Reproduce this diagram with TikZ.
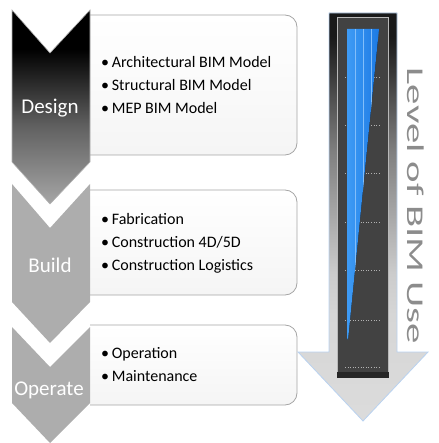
\documentclass[tikz,border=0pt]{standalone}
\usepackage{fontspec}
\setmainfont{Carlito}

\definecolor{chevgray}{RGB}{173,173,173}
\definecolor{bardark}{RGB}{66,66,66}
\definecolor{bluelight}{RGB}{62,155,245}
\definecolor{bluedark}{RGB}{28,122,228}
\definecolor{stripeblue}{RGB}{130,190,250}
\definecolor{arrowedge}{RGB}{185,210,240}
\definecolor{boxedge}{RGB}{165,165,165}

\pgfdeclareverticalshading{designfade}{100bp}{color(0bp)=(gray!70); color(25bp)=(gray!70); color(45bp)=(black!62); color(65bp)=(black); color(100bp)=(black)}
\pgfdeclareverticalshading{arrowfade}{100bp}{color(0bp)=(gray!28); color(25bp)=(gray!28); color(38bp)=(gray!32); color(43bp)=(gray!40); color(58bp)=(black!50); color(72bp)=(black!90); color(100bp)=(black!90)}

\begin{document}
\begin{tikzpicture}[x=1pt, y=-1pt,
  chevron/.style={fill=chevgray},
  stage/.style={text=white, font=\fontsize{21}{21}\selectfont},
  textbox/.style={draw=boxedge, line width=0.8pt, top color=white, bottom color=gray!8, rounded corners=12pt},
  items/.style={anchor=west, align=left, inner sep=0pt, font=\fontsize{16}{23}\selectfont}]

\useasboundingbox (0,0) rectangle (438,443);

\path[textbox] (90,15) -- (297,15) -- (297,155) -- (90,155);
\path[textbox] (90,190) -- (297,190) -- (297,295) -- (90,295);
\path[textbox] (90,325) -- (297,325) -- (297,405) -- (90,405);

\path[shading=designfade, draw=gray!60, line width=0.6pt] (12,10) -- (50,53) -- (90,10) -- (90,162) -- (50,204) -- (12,162) -- cycle;
\fill[chevron] (12,184) -- (50,228) -- (90,184) -- (90,302) -- (50,343) -- (12,302) -- cycle;
\fill[chevron] (12,327) -- (50,367) -- (90,327) -- (90,403) -- (50,443) -- (12,403) -- cycle;

\node[stage] (1) at (50,108) {Design};
\node[stage] (2) at (50,265) {Build};
\node[stage] (3) at (49,390) {Operate};

\node[items] (4) at (101,85) {•\,Architectural BIM Model\\•\,Structural BIM Model\\•\,MEP BIM Model};
\node[items] (5) at (101,243) {•\,Fabrication\\•\,Construction 4D/5D\\•\,Construction Logistics};
\node[items] (6) at (101,365) {•\,Operation\\•\,Maintenance};

\path[shading=arrowfade, draw=arrowedge, line width=0.8pt] (329,13) -- (397,13) -- (397,352) -- (428,352) -- (363,421) -- (298,352) -- (329,352) -- cycle;

\fill[bardark] (337,17) rectangle (389,378);
\draw[gray!55, line width=0.8pt] (337.5,378) -- (337.5,17.5) -- (388.5,17.5) -- (388.5,378);
\fill[black!85] (337,372) rectangle (389,378);
\foreach \y in {77,125,173,222,270,320,367}
  \draw[gray!60, dotted, line width=0.6pt] (345,\y) -- (380,\y);

\begin{scope}
\clip (347,29) -- (379,29) -- (348,340) -- (347,338) -- cycle;
\fill[left color=bluelight, right color=bluedark] (347,29) rectangle (379,340);
\foreach \x in {355,363,371}
  \draw[stripeblue, line width=0.8pt] (\x,29) -- (\x,340);
\end{scope}

\node[rotate=-90, xscale=1.7, text=black!45, font=\fontsize{24}{24}\selectfont] (7) at (416,206) {Level of BIM Use};
\end{tikzpicture}
\end{document}
